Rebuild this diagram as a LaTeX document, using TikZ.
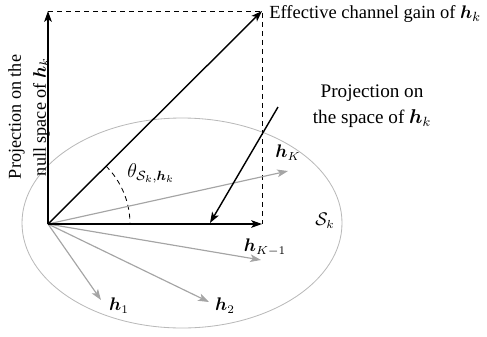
\documentclass[tikz,border=0pt]{standalone}
\usepackage{fontspec}
\setmainfont{Liberation Serif}
\usepackage{amsmath,bm}
\usetikzlibrary{arrows.meta}
\definecolor{lgray}{RGB}{165,165,165}
\definecolor{egray}{RGB}{185,185,185}
\tikzset{
  vec/.style={line width=0.85pt,-{Stealth[length=6.5pt,width=4.6pt,inset=1.6pt]}},
  gvec/.style={line width=0.7pt,lgray,-{Stealth[length=6.5pt,width=4.6pt,inset=1.6pt]}},
  guide/.style={line width=0.5pt,dash pattern=on 3pt off 2.4pt},
  lbl/.style={inner sep=0pt,font=\fontsize{10.5}{12.5}\selectfont}
}
\begin{document}
\begin{tikzpicture}[x=0.6pt,y=-0.6pt]
\useasboundingbox (0,0) rectangle (487,336);
\coordinate (O) at (48,224);
\coordinate (T) at (48,11);
\coordinate (C) at (262,11);
\coordinate (R) at (262,224);
\coordinate (P) at (278,107);
\coordinate (Q) at (210,223);
% ellipse
\draw[egray,line width=0.5pt] (182,223) ellipse [x radius=160,y radius=105];
% dashed guides
\draw[guide] (T) -- (C) -- (R);
% angle arc
\draw[guide] (O) ++(-45:82) arc[start angle=-45,end angle=0,radius=82];
% gray vectors
\coordinate (hK) at (288,171);
\coordinate (hK1) at (261,260);
\coordinate (h1) at (101,300);
\coordinate (h2) at (209,302);
\draw[gvec] (O) -- (hK);
\draw[gvec] (O) -- (hK1);
\draw[gvec] (O) -- (h1);
\draw[gvec] (O) -- (h2);
% black vectors
\draw[vec] (O) -- (T);
\draw[vec] (O) -- (C);
\draw[vec] (O) -- (R);
\draw[vec] (P) -- (Q);
% labels
\node[lbl,anchor=west,font=\fontsize{11.1}{13}\selectfont] (eff) at (269,14) {Effective channel gain of $\bm{h}_k$};
\node[lbl,align=center,font=\fontsize{11.5}{13.5}\selectfont] (proj) at (372,106) {Projection on\\[2pt]the space of $\bm{h}_k$};
\node[lbl,align=center,rotate=90,font=\fontsize{10.9}{13}\selectfont] (null) at (29,117) {Projection on the\\[2pt]null space of $\bm{h}_k$};
\node[lbl,font=\fontsize{11.5}{13.5}\selectfont] (th) at (151,173) {$\theta_{\mathcal{S}_k,\bm{h}_k}$};
\node[lbl] (lK) at (288,153) {$\bm{h}_K$};
\node[lbl] (lK1) at (265,247) {$\bm{h}_{K-1}$};
\node[lbl] (l1) at (119,306) {$\bm{h}_1$};
\node[lbl] (l2) at (225,306) {$\bm{h}_2$};
\node[lbl] (S) at (325,221) {$\mathcal{S}_k$};
\end{tikzpicture}
\end{document}
